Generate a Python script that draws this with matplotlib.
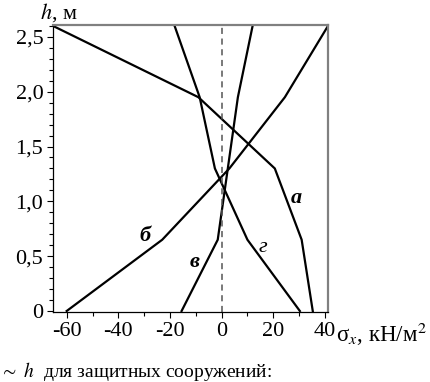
import matplotlib
matplotlib.use("Agg")
import matplotlib.pyplot as plt
from matplotlib.ticker import MultipleLocator, FuncFormatter

plt.rcParams['font.family'] = ['Liberation Serif', 'DejaVu Serif']
plt.rcParams['mathtext.fontset'] = 'stix'

# heights, m
h = [0, 0.65, 1.3, 1.95, 2.6]
# sigma_x, kN/m2, for each curve
sig_a = [35.3, 31, 20.6, -9, -65.3]
sig_b = [-60, -23, 3, 24.5, 41.2]
sig_v = [-15.5, -1.5, 2.4, 6.3, 12]
sig_g = [30.3, 10, -2.6, -8.5, -18.2]

fig = plt.figure(figsize=(4.31, 3.82), dpi=100)
ax = fig.add_axes([0.123, 0.183, 0.638, 0.752])

for s in [sig_a, sig_b, sig_v, sig_g]:
    ax.plot(s, h, color='black', lw=1.6, solid_joinstyle='miter')

ax.axvline(0, color='#555555', lw=1.1, ls=(0, (4, 3)))

ax.set_xlim(-65.3, 41.2)
ax.set_ylim(-0.01, 2.61)

ax.xaxis.set_major_locator(MultipleLocator(20))
ax.xaxis.set_minor_locator(MultipleLocator(10))
ax.yaxis.set_major_locator(MultipleLocator(0.5))
ax.yaxis.set_minor_locator(MultipleLocator(0.1))

def yfmt(v, pos):
    if abs(v) < 1e-9:
        return '0'
    return ('%.1f' % v).replace('.', ',')

ax.yaxis.set_major_formatter(FuncFormatter(yfmt))
ax.xaxis.set_major_formatter(FuncFormatter(lambda v, p: '%d' % round(v)))

ax.tick_params(which='major', direction='out', length=4, width=0.8, labelsize=16, pad=3)
ax.tick_params(which='minor', direction='out', length=3, width=0.8)

for side in ['top', 'right']:
    ax.spines[side].set_color('#808080')
    ax.spines[side].set_linewidth(1.6)
for side in ['left', 'bottom']:
    ax.spines[side].set_color('black')
    ax.spines[side].set_linewidth(0.9)

# curve labels
lab_kw = dict(fontsize=16, style='italic', ha='center', va='center')
ax.text(29, 1.03, 'а', weight='bold', **lab_kw)
ax.text(-29.7, 0.68, 'б', weight='bold', **lab_kw)
ax.text(-10.3, 0.45, 'в', weight='bold', **lab_kw)
ax.text(16, 0.58, 'г', **lab_kw)

fig.text(0.093, 0.952, '$h$, м', fontsize=16, ha='left', va='baseline')
fig.text(0.779, 0.105, r'σ$_x$, кН/м$^2$', fontsize=16.5, ha='left', va='baseline')
fig.text(0.0, 0.014, r'$\sim\ h$  для защитных сооружений:', fontsize=14, ha='left', va='baseline')

fig.savefig('out.png', dpi=100)
